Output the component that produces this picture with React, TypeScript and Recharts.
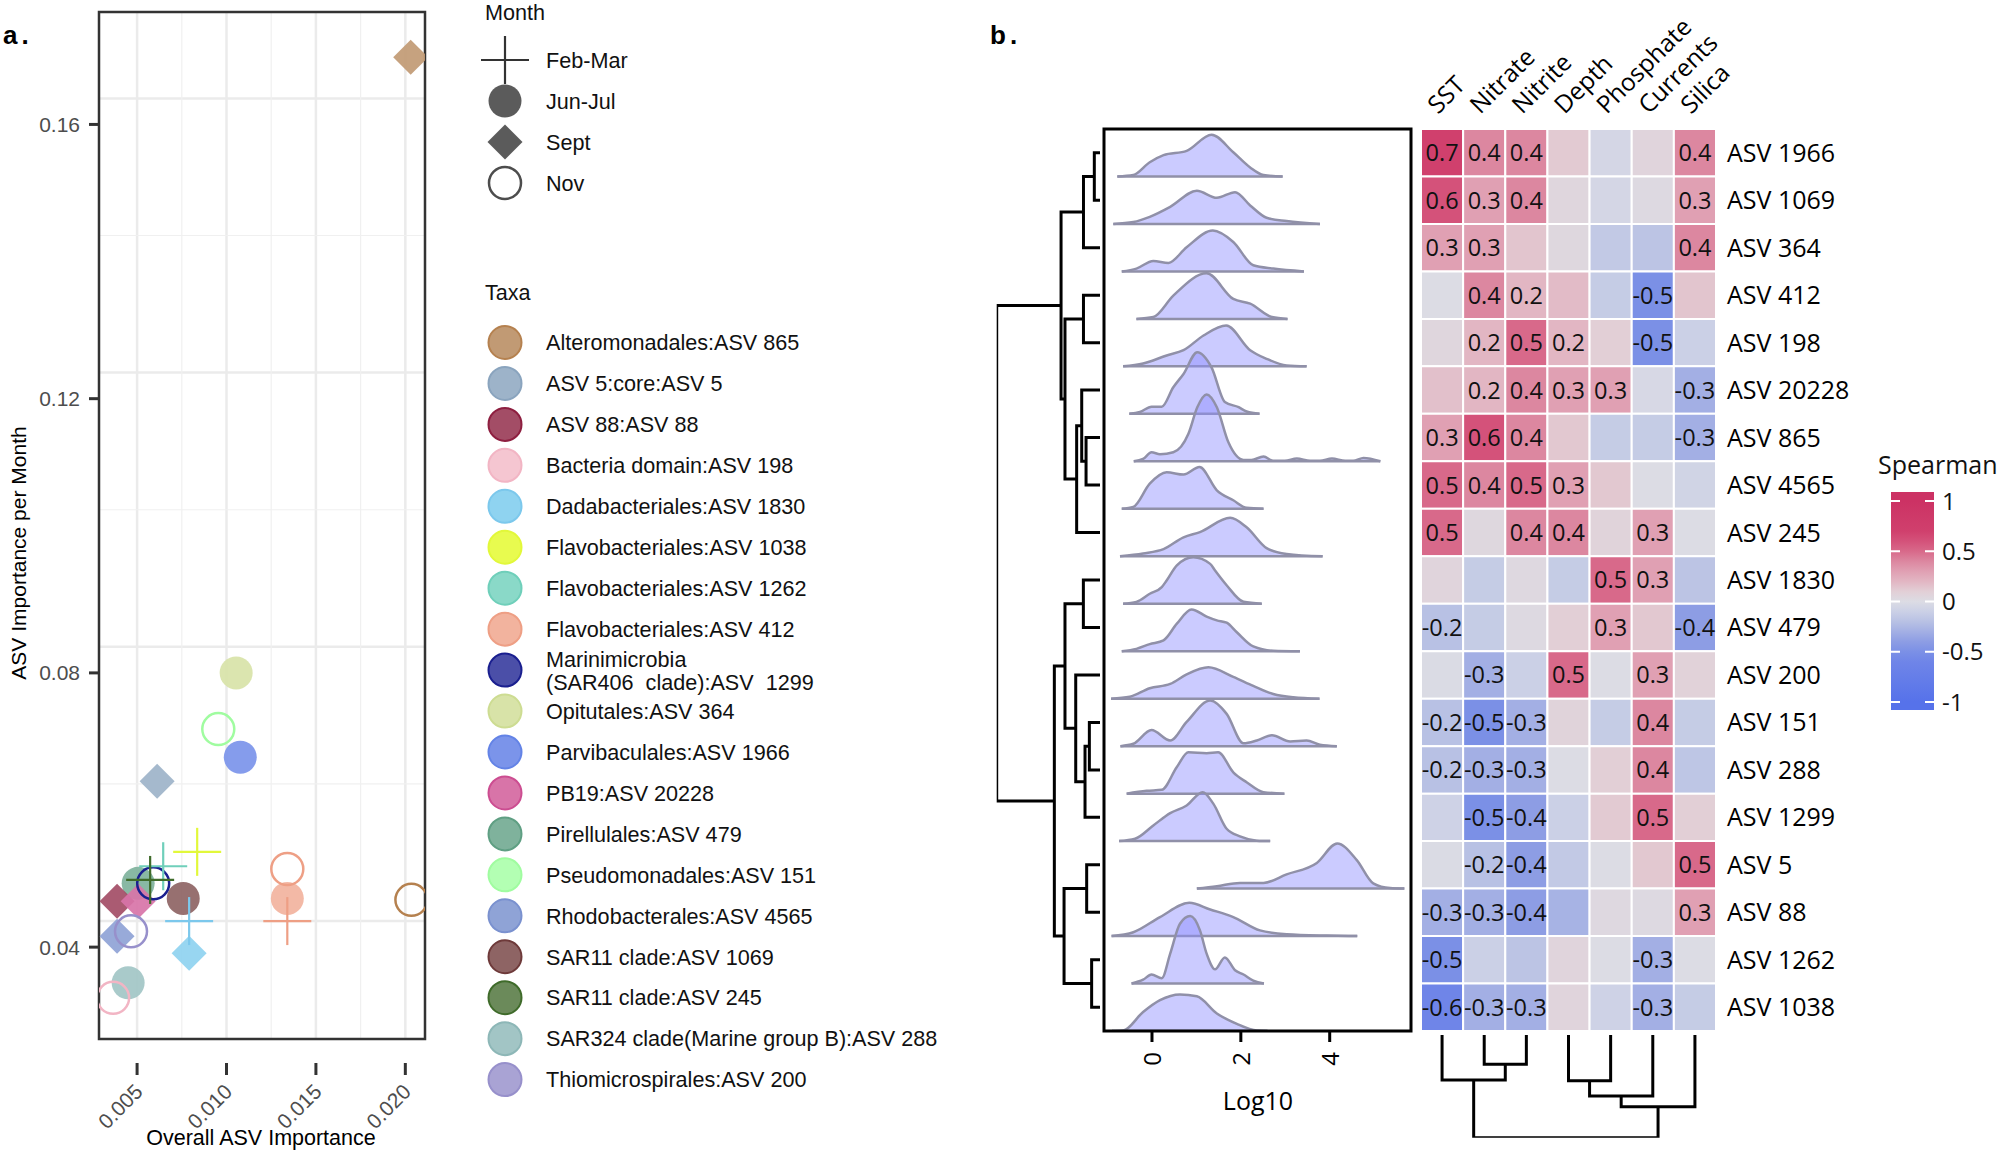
import React from 'react';
import {
  ScatterChart,
  Scatter,
  ComposedChart,
  Area,
  Line,
  XAxis,
  YAxis,
  CartesianGrid,
  ReferenceArea,
  ReferenceLine,
} from 'recharts';

const A_FONT = '"Liberation Sans", Arial, sans-serif';
const B_FONT = '"Open Sans", "Noto Sans", sans-serif';

// ---------- panel a: ASV importance ----------
const months = ['Feb-Mar', 'Jun-Jul', 'Sept', 'Nov'];

const taxa = [
  'Alteromonadales:ASV 865',
  'ASV 5:core:ASV 5',
  'ASV 88:ASV 88',
  'Bacteria domain:ASV 198',
  'Dadabacteriales:ASV 1830',
  'Flavobacteriales:ASV 1038',
  'Flavobacteriales:ASV 1262',
  'Flavobacteriales:ASV 412',
  'Marinimicrobia (SAR406 clade):ASV 1299',
  'Opitutales:ASV 364',
  'Parvibaculales:ASV 1966',
  'PB19:ASV 20228',
  'Pirellulales:ASV 479',
  'Pseudomonadales:ASV 151',
  'Rhodobacterales:ASV 4565',
  'SAR11 clade:ASV 1069',
  'SAR11 clade:ASV 245',
  'SAR324 clade(Marine group B):ASV 288',
  'Thiomicrospirales:ASV 200',
];
const taxaFill = ['#c19a74', '#9db3c9', '#a34d66', '#f5c6d1', '#8fd3f0', '#e8fb4f', '#8ad9c8', '#f2b39e', '#4b4fa8', '#d8e3a8', '#7b94ea', '#d874a8', '#7fb29c', '#b3ffb3', '#8fa3d6', '#8e6464', '#6b8a5a', '#a2c5c5', '#a9a3d4'];
const taxaLine = ['#b5814f', '#8aa4be', '#8e1f40', '#f2b5c4', '#7cc8ec', '#e2f83a', '#6fcfba', '#ee9f85', '#1a1f8f', '#cddc92', '#6383e6', '#cc4d91', '#5f9f83', '#a0fca0', '#7a91cf', '#6e3a3a', '#3f6b2a', '#8db7b7', '#9790cb'];

// drawn in this order
const importance = [
  { taxon: 'Opitutales:ASV 364', month: 'Jun-Jul', overall: 0.01054, perMonth: 0.08 },
  { taxon: 'Parvibaculales:ASV 1966', month: 'Jun-Jul', overall: 0.01077, perMonth: 0.0677 },
  { taxon: 'Pirellulales:ASV 479', month: 'Jun-Jul', overall: 0.00506, perMonth: 0.0493 },
  { taxon: 'SAR11 clade:ASV 1069', month: 'Jun-Jul', overall: 0.00758, perMonth: 0.0471 },
  { taxon: 'Flavobacteriales:ASV 412', month: 'Jun-Jul', overall: 0.0134, perMonth: 0.0471 },
  { taxon: 'SAR324 clade(Marine group B):ASV 288', month: 'Jun-Jul', overall: 0.0045, perMonth: 0.0348 },
  { taxon: 'Alteromonadales:ASV 865', month: 'Sept', overall: 0.0203, perMonth: 0.1698 },
  { taxon: 'ASV 5:core:ASV 5', month: 'Sept', overall: 0.00612, perMonth: 0.0642 },
  { taxon: 'ASV 88:ASV 88', month: 'Sept', overall: 0.00388, perMonth: 0.0467 },
  { taxon: 'PB19:ASV 20228', month: 'Sept', overall: 0.00506, perMonth: 0.0467 },
  { taxon: 'Dadabacteriales:ASV 1830', month: 'Sept', overall: 0.00791, perMonth: 0.0391 },
  { taxon: 'Rhodobacterales:ASV 4565', month: 'Sept', overall: 0.00388, perMonth: 0.0416 },
  { taxon: 'Pseudomonadales:ASV 151', month: 'Nov', overall: 0.00954, perMonth: 0.0718 },
  { taxon: 'Marinimicrobia (SAR406 clade):ASV 1299', month: 'Nov', overall: 0.0059, perMonth: 0.0493 },
  { taxon: 'Flavobacteriales:ASV 412', month: 'Nov', overall: 0.0134, perMonth: 0.0514 },
  { taxon: 'Alteromonadales:ASV 865', month: 'Nov', overall: 0.02034, perMonth: 0.0469 },
  { taxon: 'Thiomicrospirales:ASV 200', month: 'Nov', overall: 0.00466, perMonth: 0.0423 },
  { taxon: 'Bacteria domain:ASV 198', month: 'Nov', overall: 0.00366, perMonth: 0.0326 },
  { taxon: 'Flavobacteriales:ASV 1038', month: 'Feb-Mar', overall: 0.00836, perMonth: 0.0539 },
  { taxon: 'Flavobacteriales:ASV 1262', month: 'Feb-Mar', overall: 0.00646, perMonth: 0.0518 },
  { taxon: 'SAR11 clade:ASV 245', month: 'Feb-Mar', overall: 0.00573, perMonth: 0.0498 },
  { taxon: 'Flavobacteriales:ASV 412', month: 'Feb-Mar', overall: 0.0134, perMonth: 0.0438 },
  { taxon: 'Dadabacteriales:ASV 1830', month: 'Feb-Mar', overall: 0.00791, perMonth: 0.0438 },
];

const overallTicks = [0.005, 0.01, 0.015, 0.02];
const perMonthTicks = [0.04, 0.08, 0.12, 0.16];
const gridMajorX = [0.005, 0.01, 0.015, 0.02];
const gridMinorX = [0.0075, 0.0125, 0.0175];
// the horizontal grid sits a little above the tick marks in the original
const gridMajorY = [0.1638, 0.1238, 0.0838, 0.0438];
const gridMinorY = [0.1438, 0.1038, 0.0638];

// ---------- panel b: ridges, heatmap, dendrograms ----------
const asvRows = ['ASV 1966', 'ASV 1069', 'ASV 364', 'ASV 412', 'ASV 198', 'ASV 20228', 'ASV 865', 'ASV 4565', 'ASV 245', 'ASV 1830', 'ASV 479', 'ASV 200', 'ASV 151', 'ASV 288', 'ASV 1299', 'ASV 5', 'ASV 88', 'ASV 1262', 'ASV 1038'];
const envVars = ['SST', 'Nitrate', 'Nitrite', 'Depth', 'Phosphate', 'Currents', 'Silica'];

// density ridges: [log10 abundance, height in row units], one per ASV row
const ridgeShapes = [
  [[-0.78, 0], [-0.42, 0.03], [-0.05, 0.3], [0.26, 0.45], [0.78, 0.54], [1.34, 0.88], [1.83, 0.51], [2.21, 0.19], [2.51, 0.03], [2.94, 0]],
  [[-0.87, 0], [-0.42, 0.04], [-0.05, 0.15], [0.41, 0.36], [1.01, 0.7], [1.46, 0.55], [1.87, 0.67], [2.21, 0.39], [2.58, 0.13], [3.03, 0.06], [3.78, 0]],
  [[-0.68, 0], [-0.35, 0.06], [0.03, 0.22], [0.37, 0.18], [0.78, 0.51], [1.37, 0.86], [1.83, 0.62], [2.28, 0.13], [2.73, 0.06], [3.42, 0]],
  [[-0.35, 0], [0.03, 0.04], [0.48, 0.49], [1.23, 0.96], [1.83, 0.42], [2.21, 0.32], [2.7, 0.04], [3.05, 0]],
  [[-0.65, 0], [-0.2, 0.06], [0.33, 0.23], [0.71, 0.34], [1.16, 0.65], [1.67, 0.86], [2.21, 0.34], [2.58, 0.16], [3.03, 0.02], [3.48, 0]],
  [[-0.51, 0], [-0.27, 0.04], [-0.01, 0.15], [0.22, 0.15], [0.48, 0.56], [0.71, 0.84], [1.02, 1.3], [1.34, 0.98], [1.64, 0.25], [1.95, 0.14], [2.13, 0.05], [2.42, 0]],
  [[-0.41, 0], [-0.2, 0.05], [-0.01, 0.19], [0.18, 0.15], [0.48, 0.19], [0.82, 0.58], [1.02, 1.14], [1.23, 1.41], [1.46, 1.14], [1.72, 0.4], [2.06, 0.03], [2.24, 0.03], [2.51, 0.1], [2.73, 0.01], [2.99, 0.01], [3.26, 0.06], [3.56, 0.01], [3.78, 0.01], [4.05, 0.06], [4.35, 0.01], [4.53, 0.01], [4.76, 0.07], [5.14, 0]],
  [[-0.68, 0], [-0.42, 0.04], [-0.05, 0.53], [0.33, 0.77], [0.71, 0.72], [1.07, 0.88], [1.46, 0.39], [1.83, 0.18], [2.13, 0.02], [2.51, 0]],
  [[-0.72, 0], [-0.2, 0.06], [0.26, 0.15], [0.71, 0.4], [1.08, 0.51], [1.76, 0.81], [2.13, 0.61], [2.58, 0.17], [3.03, 0.05], [3.84, 0]],
  [[-0.65, 0], [-0.35, 0.04], [-0.05, 0.21], [0.22, 0.35], [0.33, 0.49], [0.56, 0.81], [0.93, 0.98], [1.31, 0.84], [1.42, 0.7], [1.68, 0.39], [2.06, 0.04], [2.47, 0]],
  [[-0.68, 0], [-0.35, 0.05], [-0.05, 0.15], [0.26, 0.23], [0.56, 0.58], [0.89, 0.88], [1.23, 0.73], [1.46, 0.65], [1.68, 0.6], [1.91, 0.4], [2.28, 0.1], [2.73, 0.01], [3.33, 0]],
  [[-0.92, 0], [-0.5, 0.04], [-0.05, 0.22], [0.41, 0.31], [0.78, 0.51], [1.27, 0.66], [1.83, 0.46], [2.28, 0.27], [2.73, 0.1], [3.18, 0.03], [3.77, 0]],
  [[-0.71, 0], [-0.42, 0.05], [-0.01, 0.34], [0.41, 0.12], [0.78, 0.51], [1.31, 0.96], [1.68, 0.68], [2.06, 0.06], [2.36, 0.12], [2.7, 0.23], [3.11, 0.1], [3.48, 0.12], [3.78, 0.03], [4.16, 0]],
  [[-0.57, 0], [-0.12, 0.06], [0.22, 0.08], [0.56, 0.56], [0.82, 0.87], [1.23, 0.85], [1.49, 0.87], [1.83, 0.45], [2.13, 0.24], [2.51, 0.03], [2.98, 0]],
  [[-0.74, 0], [-0.38, 0.05], [0.03, 0.33], [0.41, 0.59], [0.78, 0.75], [1.14, 1.03], [1.38, 0.79], [1.68, 0.26], [1.98, 0.1], [2.36, 0.01], [2.66, 0]],
  [[1.01, 0], [1.46, 0.05], [1.98, 0.12], [2.51, 0.12], [3.03, 0.3], [3.71, 0.54], [4.17, 0.95], [4.61, 0.6], [4.98, 0.11], [5.36, 0.01], [5.68, 0]],
  [[-0.91, 0], [-0.42, 0.08], [0.18, 0.4], [0.84, 0.7], [1.31, 0.56], [1.83, 0.4], [2.43, 0.12], [3.03, 0.04], [3.93, 0.01], [4.62, 0]],
  [[-0.46, 0], [-0.2, 0.08], [-0.01, 0.19], [0.22, 0.11], [0.41, 0.63], [0.63, 1.26], [0.86, 1.42], [1.08, 1.12], [1.23, 0.63], [1.42, 0.3], [1.64, 0.55], [1.87, 0.28], [2.06, 0.19], [2.28, 0.06], [2.52, 0]],
  [[-0.9, 0], [-0.65, 0.01], [-0.2, 0.4], [0.18, 0.65], [0.63, 0.77], [1.01, 0.73], [1.46, 0.37], [1.91, 0.15], [2.36, 0.01], [2.6, 0]],
];
const log10Ticks = [0, 2, 4];

// Spearman correlations, rows follow asvRows, columns follow envVars
const corr = [
  [0.7, 0.4, 0.4, 0.12, -0.05, 0.06, 0.4],
  [0.6, 0.3, 0.4, 0.05, -0.05, 0.02, 0.3],
  [0.3, 0.3, 0.14, 0.04, -0.15, -0.18, 0.4],
  [0.0, 0.4, 0.2, 0.18, -0.13, -0.5, 0.14],
  [0.05, 0.2, 0.5, 0.2, 0.1, -0.5, -0.1],
  [0.16, 0.2, 0.4, 0.3, 0.3, -0.03, -0.3],
  [0.3, 0.6, 0.4, 0.13, -0.13, -0.13, -0.3],
  [0.5, 0.4, 0.5, 0.3, 0.13, 0.0, -0.07],
  [0.5, 0.04, 0.4, 0.4, 0.07, 0.3, 0.0],
  [0.06, -0.13, 0.03, -0.13, 0.5, 0.3, -0.18],
  [-0.2, -0.13, 0.02, 0.1, 0.3, 0.13, -0.4],
  [-0.01, -0.3, -0.1, 0.5, 0.0, 0.3, 0.08],
  [-0.2, -0.5, -0.3, 0.07, -0.13, 0.4, -0.13],
  [-0.2, -0.3, -0.3, 0.0, 0.1, 0.4, -0.17],
  [-0.08, -0.5, -0.4, -0.1, 0.12, 0.5, 0.1],
  [-0.01, -0.2, -0.4, -0.15, 0.0, 0.13, 0.5],
  [-0.3, -0.3, -0.4, -0.28, 0.03, 0.02, 0.3],
  [-0.5, -0.1, -0.18, 0.06, 0.0, -0.3, 0.0],
  [-0.6, -0.3, -0.3, 0.06, -0.08, -0.3, -0.13],
];
// 1 = value printed in the cell
const corrShown = [
  [1, 1, 1, 0, 0, 0, 1],
  [1, 1, 1, 0, 0, 0, 1],
  [1, 1, 0, 0, 0, 0, 1],
  [0, 1, 1, 0, 0, 1, 0],
  [0, 1, 1, 1, 0, 1, 0],
  [0, 1, 1, 1, 1, 0, 1],
  [1, 1, 1, 0, 0, 0, 1],
  [1, 1, 1, 1, 0, 0, 0],
  [1, 0, 1, 1, 0, 1, 0],
  [0, 0, 0, 0, 1, 1, 0],
  [1, 0, 0, 0, 1, 0, 1],
  [0, 1, 0, 1, 0, 1, 0],
  [1, 1, 1, 0, 0, 1, 0],
  [1, 1, 1, 0, 0, 1, 0],
  [0, 1, 1, 0, 0, 1, 0],
  [0, 1, 1, 0, 0, 0, 1],
  [1, 1, 1, 0, 0, 0, 1],
  [1, 0, 0, 0, 0, 1, 0],
  [1, 1, 1, 0, 0, 1, 0],
];
const spearmanTicks = [1, 0.5, 0, -0.5, -1];

// hierarchical clustering merges: [childA, childB, height]; negative = leaf number
const rowMerges = [
  [-1, -2, 0.055], [1, -3, 0.16], [-4, -5, 0.16], [-7, -8, 0.135], [-6, 4, 0.177], [5, -9, 0.226],
  [3, 6, 0.339], [2, 7, 0.377], [-10, -11, 0.161], [-13, -14, 0.103], [10, -15, 0.145], [-12, 11, 0.235],
  [9, 12, 0.339], [-16, -17, 0.129], [-18, -19, 0.081], [14, 15, 0.348], [13, 16, 0.442], [8, 17, 1.0],
];
const colMerges = [
  [-2, -3, 0.286], [-1, 1, 0.438], [-4, -5, 0.445], [3, -6, 0.594], [4, -7, 0.698], [2, 5, 1.0],
];

// ---------- helpers ----------
const corrStops: [number, string][] = [
  [-1.1, '#5470ea'], [-1, '#5672ea'], [-0.6, '#6f85e8'], [-0.5, '#7b90e6'], [-0.4, '#8d9de4'], [-0.3, '#a3afe4'],
  [-0.2, '#b8c1e4'], [-0.1, '#cbd0e6'], [0, '#dcdce4'], [0.1, '#e2cfd6'], [0.2, '#e2b6c3'], [0.3, '#e0a0b3'],
  [0.4, '#dc87a0'], [0.5, '#d8698a'], [0.6, '#d4527a'], [0.7, '#d0406d'], [1, '#cc3264'], [1.1, '#cc3264'],
];
const hexRgb = (h: string) => [1, 3, 5].map((i) => parseInt(h.slice(i, i + 2), 16));
function corrColor(v: number) {
  for (let i = 0; i < corrStops.length - 1; i++) {
    const [a, ca] = corrStops[i];
    const [b, cb] = corrStops[i + 1];
    if (v >= a && v <= b) {
      const t = (v - a) / (b - a);
      const A = hexRgb(ca);
      const B = hexRgb(cb);
      return `rgb(${A.map((c, k) => Math.round(c + (B[k] - c) * t)).join(',')})`;
    }
  }
  return '#dcdce4';
}

function dendrogram(merges: number[][], leafPos: (k: number) => number) {
  const pos: number[] = [];
  const hgt: number[] = [];
  const at = (ref: number) => (ref < 0 ? { p: leafPos(-ref), h: 0 } : { p: pos[ref - 1], h: hgt[ref - 1] });
  return merges.map(([a, b, h], i) => {
    const A = at(a);
    const B = at(b);
    pos[i] = (A.p + B.p) / 2;
    hgt[i] = h;
    return [
      { h: A.h, p: A.p },
      { h, p: A.p },
      { h, p: B.p },
      { h: B.h, p: B.p },
    ];
  });
}

const rowSegments = dendrogram(rowMerges, (k) => 19.5 - k).map((s) => s.map((d) => ({ x: d.h, y: d.p })));
const colSegments = dendrogram(colMerges, (k) => k - 0.5).map((s) => s.map((d) => ({ x: d.p, y: d.h })));

const ridgeSeries = ridgeShapes.map((shape, i) =>
  shape.map(([x, h]) => ({ x, r: [18 - i, 18 - i + h] }))
);

const heatCells = corr.flatMap((row, r) => row.map((v, c) => ({ r, c, v })));
const heatLabels = heatCells
  .filter((d) => corrShown[d.r][d.c])
  .map((d) => ({ x: d.c + 0.5, y: 18.5 - d.r, label: d.v.toFixed(1) }));

// ---------- ticks & glyphs ----------
function ImportanceXTick({ x, y, payload }: any) {
  const tx = x + 7;
  const ty = y + 54;
  return (
    <g>
      <line x1={x} x2={x} y1={y + 24} y2={y + 36} stroke="#333" strokeWidth={3} />
      <text x={tx} y={ty} textAnchor="end" fontSize={21} fill="#4d4d4d" fontFamily={A_FONT} transform={`rotate(-45 ${tx} ${ty})`}>
        {payload.value.toFixed(3)}
      </text>
    </g>
  );
}

function ImportanceYTick({ x, y, payload }: any) {
  return (
    <g>
      <line x1={x - 10} x2={x} y1={y} y2={y} stroke="#333" strokeWidth={3} />
      <text x={x - 19} y={y} dy="0.36em" textAnchor="end" fontSize={21} fill="#4d4d4d" fontFamily={A_FONT}>
        {payload.value.toFixed(2)}
      </text>
    </g>
  );
}

function MonthGlyph({ cx, cy, month, fill, line }: any) {
  if (month === 'Feb-Mar') {
    return (
      <g stroke={line} strokeWidth={2.2}>
        <line x1={cx - 24} x2={cx + 24} y1={cy} y2={cy} />
        <line x1={cx} x2={cx} y1={cy - 24} y2={cy + 24} />
      </g>
    );
  }
  if (month === 'Jun-Jul') return <circle cx={cx} cy={cy} r={16.5} fill={fill} fillOpacity={0.92} />;
  if (month === 'Sept') {
    const d = 17.5;
    return <polygon points={`${cx},${cy - d} ${cx + d},${cy} ${cx},${cy + d} ${cx - d},${cy}`} fill={fill} fillOpacity={0.92} />;
  }
  return <circle cx={cx} cy={cy} r={16} fill="none" stroke={line} strokeWidth={2.5} />;
}

function ImportancePoint(props: any) {
  const { cx, cy, payload } = props;
  const i = taxa.indexOf(payload.taxon);
  return <MonthGlyph cx={cx} cy={cy} month={payload.month} fill={taxaFill[i]} line={taxaLine[i]} />;
}

function RidgeTick({ x, y, payload }: any) {
  const ty = y + 28;
  return (
    <g>
      <line x1={x} x2={x} y1={y} y2={y + 11} stroke="#000" strokeWidth={3} />
      <text x={x} y={ty} textAnchor="middle" dominantBaseline="central" fontSize={24} fontFamily={B_FONT} transform={`rotate(-90 ${x} ${ty})`}>
        {payload.value}
      </text>
    </g>
  );
}

function EnvTick({ x, y, payload }: any) {
  const tx = x - 4;
  const ty = y - 14;
  return (
    <text x={tx} y={ty} fontSize={24.5} fontFamily={B_FONT} fill="#000" transform={`rotate(-45 ${tx} ${ty})`}>
      {envVars[Math.floor(payload.value)]}
    </text>
  );
}

function AsvTick({ x, y, payload }: any) {
  return (
    <text x={x + 11} y={y} dy="0.36em" fontSize={25} fontFamily={B_FONT} fill="#000">
      {asvRows[Math.round(18.5 - payload.value)]}
    </text>
  );
}

function CellLabel({ cx, cy, payload }: any) {
  return (
    <text x={cx} y={cy} dy="0.36em" textAnchor="middle" fontSize={23.5} fontFamily={B_FONT} fill="#111">
      {payload.label}
    </text>
  );
}

function SpearmanTick({ x, y, payload }: any) {
  return (
    <text x={x + 8} y={y} dy="0.36em" fontSize={24} fontFamily={B_FONT} fill="#111">
      {payload.value}
    </text>
  );
}

const abs = (left: number, top: number): React.CSSProperties => ({ position: 'absolute', left, top });

export default function App() {
  const spearLo = -1.08;
  const spearHi = 1.09;
  const legendFont = 21.6;
  return (
    <div style={{ position: 'absolute', left: 0, top: 0, width: 2000, height: 1152, background: '#fff', overflow: 'hidden' }}>
      {/* titles and legends */}
      <svg width={2000} height={1152} style={abs(0, 0)}>
        <text x={3} y={44} fontSize={26} fontWeight="bold" fontFamily={A_FONT} letterSpacing={4}>a.</text>
        <text x={990} y={44} fontSize={26} fontWeight="bold" fontFamily={A_FONT} letterSpacing={4}>b.</text>
        <text x={18} y={553} fontSize={21} fontFamily={A_FONT} textAnchor="middle" dominantBaseline="central" transform="rotate(-90 18 553)">
          ASV Importance per Month
        </text>
        <text x={261} y={1138} fontSize={21.5} fontFamily={A_FONT} textAnchor="middle" dominantBaseline="central">
          Overall ASV Importance
        </text>

        <text x={485} y={20} fontSize={legendFont} fontFamily={A_FONT} fill="#111">Month</text>
        {months.map((m, i) => (
          <g key={m}>
            <MonthGlyph cx={505} cy={60 + i * 41} month={m} fill="#4d4d4d" line={m === 'Feb-Mar' ? '#333' : '#4d4d4d'} />
            <text x={546} y={60 + i * 41} dy="0.36em" fontSize={legendFont} fontFamily={A_FONT} fill="#111">{m}</text>
          </g>
        ))}

        <text x={485} y={300} fontSize={legendFont} fontFamily={A_FONT} fill="#111">Taxa</text>
        {taxa.map((t, i) => {
          const cy = 342.5 + i * 40.95;
          const two = t.startsWith('Marinimicrobia');
          return (
            <g key={t}>
              <circle cx={505} cy={cy} r={16.5} fill={taxaFill[i]} stroke={taxaLine[i]} strokeWidth={2} />
              {two ? (
                <text fontSize={legendFont} fontFamily={A_FONT} fill="#111" style={{ whiteSpace: 'pre' }}>
                  <tspan x={546} y={cy - 3}>Marinimicrobia</tspan>
                  <tspan x={546} y={cy + 20}>{'(SAR406  clade):ASV  1299'}</tspan>
                </text>
              ) : (
                <text x={546} y={cy} dy="0.36em" fontSize={legendFont} fontFamily={A_FONT} fill="#111">{t}</text>
              )}
            </g>
          );
        })}

        <text x={1258} y={1100} fontSize={25} fontFamily={B_FONT} textAnchor="middle" dominantBaseline="central">Log10</text>
        <text x={1878} y={474} fontSize={25} fontFamily={B_FONT} fill="#111">Spearman</text>
      </svg>

      {/* panel a scatter */}
      <div style={abs(0, 0)}>
        <ScatterChart width={500} height={1152} margin={{ top: 12, right: 75, bottom: 0, left: 0 }}>
          <CartesianGrid stroke="#ebebeb" strokeWidth={2.5} verticalValues={gridMajorX} horizontalValues={gridMajorY} />
          <CartesianGrid stroke="#f0f0f0" strokeWidth={1.2} verticalValues={gridMinorX} horizontalValues={gridMinorY} />
          <XAxis
            type="number"
            dataKey="overall"
            domain={[0.00287, 0.0211]}
            ticks={overallTicks}
            allowDataOverflow
            interval={0}
            height={113}
            axisLine={false}
            tickLine={false}
            tickSize={0}
            tickMargin={0}
            tick={<ImportanceXTick />}
          />
          <YAxis
            type="number"
            dataKey="perMonth"
            domain={[0.0266, 0.1764]}
            ticks={perMonthTicks}
            allowDataOverflow
            interval={0}
            width={99}
            axisLine={false}
            tickLine={false}
            tickSize={0}
            tickMargin={0}
            tick={<ImportanceYTick />}
          />
          <Scatter data={importance} shape={ImportancePoint} isAnimationActive={false} />
          <ReferenceArea x1={0.00287} x2={0.0211} y1={0.0266} y2={0.1764} fill="none" stroke="#333" strokeWidth={2.5} />
        </ScatterChart>
      </div>

      {/* row dendrogram */}
      <div style={abs(980, 0)}>
        <ComposedChart width={130} height={1152} margin={{ top: 129, right: 10, bottom: 121, left: 16.7 }}>
          <XAxis type="number" dataKey="x" domain={[0, 1]} reversed hide allowDataOverflow />
          <YAxis type="number" dataKey="y" domain={[0, 19]} hide allowDataOverflow />
          {rowSegments.map((seg, i) => (
            <Line key={i} data={seg} dataKey="y" type="linear" stroke="#000" strokeWidth={3} dot={false} isAnimationActive={false} />
          ))}
        </ComposedChart>
      </div>

      {/* ridges */}
      <div style={abs(1090, 100)}>
        <ComposedChart width={340} height={1052} margin={{ top: 29, right: 19, bottom: 0, left: 14 }}>
          <XAxis
            type="number"
            dataKey="x"
            domain={[-1.08, 5.83]}
            ticks={log10Ticks}
            allowDataOverflow
            interval={0}
            height={121}
            axisLine={false}
            tickLine={false}
            tickSize={0}
            tickMargin={0}
            tick={<RidgeTick />}
          />
          <YAxis type="number" domain={[0, 19]} hide allowDataOverflow />
          {ridgeSeries.map((data, i) => (
            <Area
              key={asvRows[i]}
              data={data}
              dataKey="r"
              type="monotone"
              fill="#8c8cff"
              fillOpacity={0.45}
              stroke="#9090a8"
              strokeWidth={2.5}
              isAnimationActive={false}
            />
          ))}
          <ReferenceArea x1={-1.08} x2={5.83} y1={0} y2={19} fill="none" stroke="#000" strokeWidth={3} />
        </ComposedChart>
      </div>

      {/* heatmap */}
      <div style={abs(1400, 0)}>
        <ComposedChart width={600} height={1152} margin={{ top: 0, right: 0, bottom: 121, left: 21 }}>
          <XAxis
            type="number"
            dataKey="x"
            orientation="top"
            domain={[0, 7]}
            ticks={envVars.map((_, i) => i + 0.5)}
            allowDataOverflow
            interval={0}
            height={129}
            axisLine={false}
            tickLine={false}
            tickSize={0}
            tickMargin={0}
            tick={<EnvTick />}
          />
          <YAxis
            type="number"
            dataKey="y"
            orientation="right"
            domain={[0, 19]}
            ticks={asvRows.map((_, i) => 18.5 - i)}
            allowDataOverflow
            interval={0}
            width={284}
            axisLine={false}
            tickLine={false}
            tickSize={0}
            tickMargin={0}
            tick={<AsvTick />}
          />
          {heatCells.map((d) => (
            <ReferenceArea
              key={`${d.r}-${d.c}`}
              x1={d.c}
              x2={d.c + 1}
              y1={18 - d.r}
              y2={19 - d.r}
              fill={corrColor(d.v)}
              fillOpacity={1}
              stroke="#fff"
              strokeWidth={2}
            />
          ))}
          <Scatter data={heatLabels} shape={CellLabel} isAnimationActive={false} />
        </ComposedChart>
      </div>

      {/* column dendrogram */}
      <div style={abs(1400, 1000)}>
        <ComposedChart width={330} height={152} margin={{ top: 35, right: 14, bottom: 14.3, left: 21 }}>
          <XAxis type="number" dataKey="x" domain={[0, 7]} hide allowDataOverflow />
          <YAxis type="number" dataKey="y" domain={[0, 1]} reversed hide allowDataOverflow />
          {colSegments.map((seg, i) => (
            <Line key={i} data={seg} dataKey="y" type="linear" stroke="#000" strokeWidth={3} dot={false} isAnimationActive={false} />
          ))}
        </ComposedChart>
      </div>

      {/* Spearman colour bar */}
      <div style={abs(1870, 440)}>
        <ComposedChart width={130} height={300} margin={{ top: 52, right: 0, bottom: 30, left: 21 }}>
          <defs>
            <linearGradient id="spearGrad" x1="0" y1="0" x2="0" y2="1">
              {corrStops
                .filter(([v]) => v >= spearLo && v <= spearHi)
                .map(([v, c]) => (
                  <stop key={v} offset={(spearHi - v) / (spearHi - spearLo)} stopColor={c} />
                ))
                .reverse()}
            </linearGradient>
          </defs>
          <XAxis type="number" dataKey="x" domain={[0, 1]} hide allowDataOverflow />
          <YAxis
            type="number"
            dataKey="y"
            orientation="right"
            domain={[spearLo, spearHi]}
            ticks={spearmanTicks}
            allowDataOverflow
            interval={0}
            width={66}
            axisLine={false}
            tickLine={false}
            tickSize={0}
            tickMargin={0}
            tick={<SpearmanTick />}
          />
          <ReferenceArea x1={0} x2={1} y1={spearLo} y2={spearHi} fill="url(#spearGrad)" fillOpacity={1} stroke="none" />
          {spearmanTicks.map((v) => (
            <ReferenceLine key={v} y={v} stroke="#fff" strokeWidth={2} strokeDasharray="9 25" />
          ))}
          <Scatter data={spearmanTicks.map((v) => ({ x: 0.5, y: v }))} shape={() => null} isAnimationActive={false} />
        </ComposedChart>
      </div>
    </div>
  );
}
